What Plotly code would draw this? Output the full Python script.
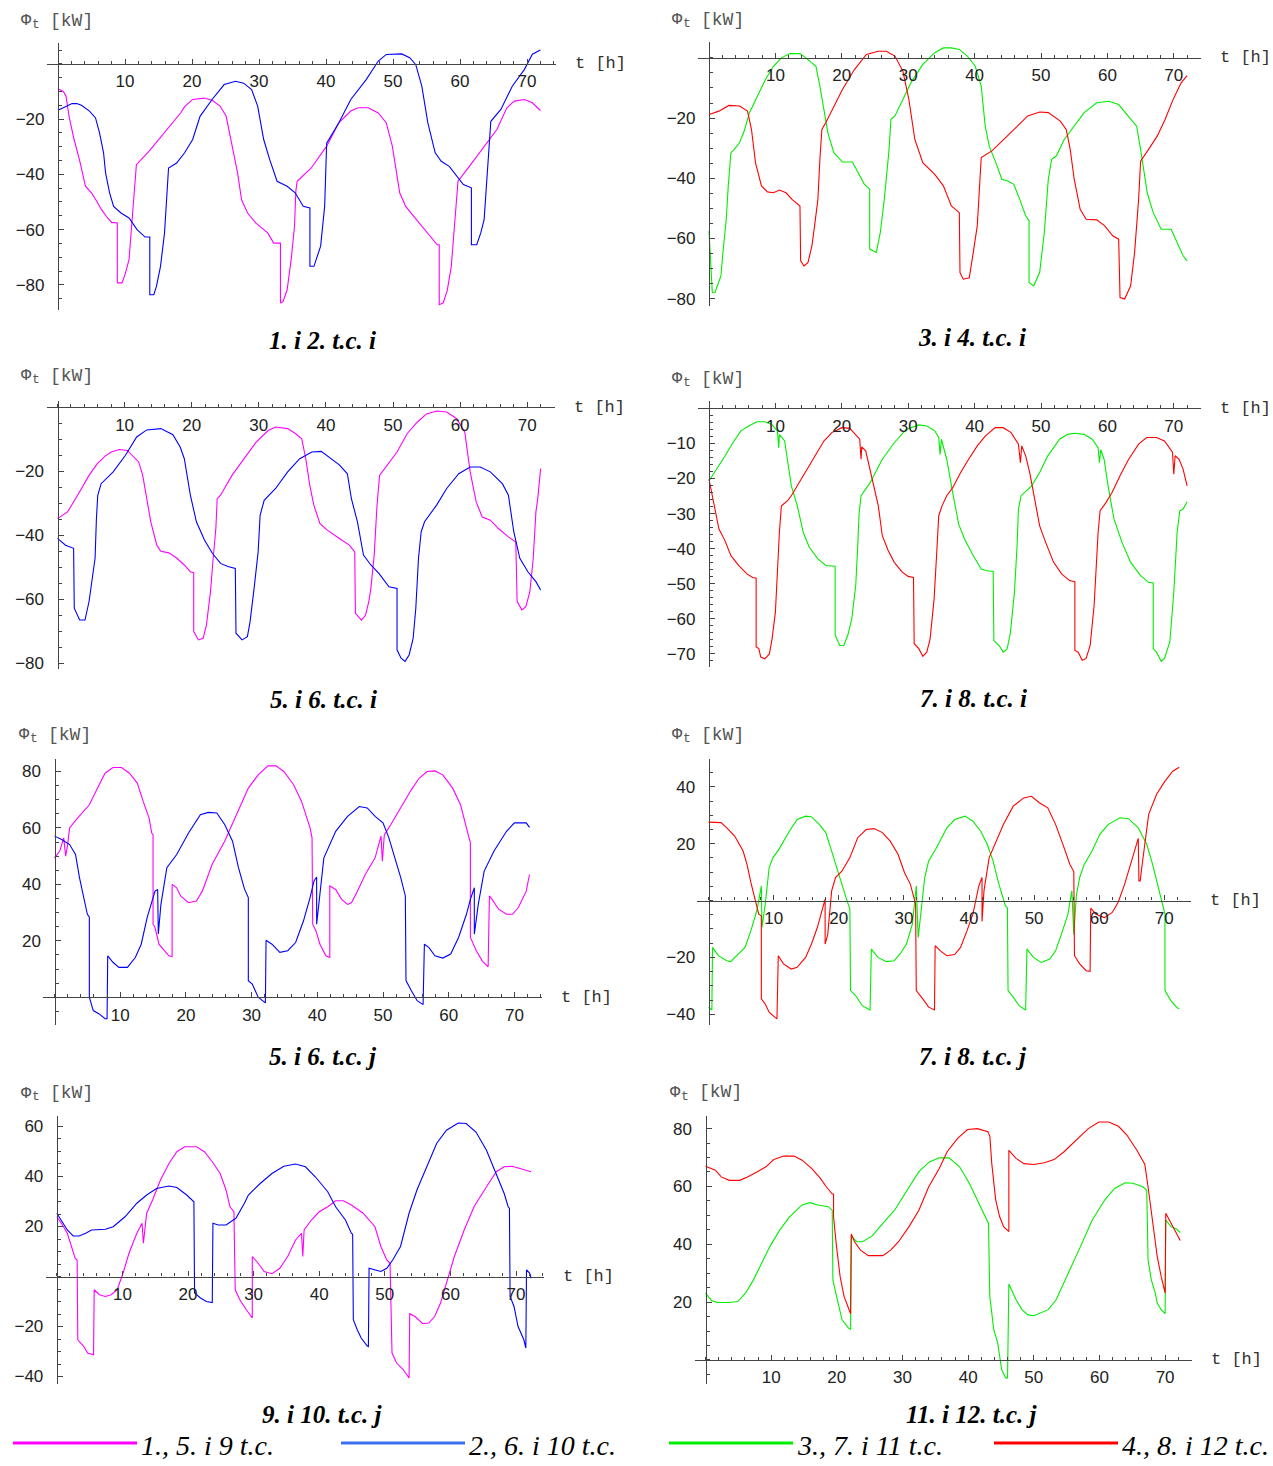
import plotly.graph_objects as go

W, H = 1273, 1466

# ---------------- data: (t [h], Phi_t [kW]) ----------------
# panel "1. i 2. t.c. i"
tc1_i = [(0, -9), (0.8, -10), (1.2, -11.7), (1.65, -19), (2.4, -27.4), (3.2, -34.7), (4.1, -44.3), (5.0, -46.7), (5.6, -49),
         (6.5, -52.8), (7.4, -55.8), (8.0, -57.4), (8.85, -57.6), (8.85, -79.3), (9.55, -79.3), (10.0, -76.3),
         (10.6, -70.9), (10.9, -61.2), (11.3, -48), (11.7, -36.5), (13.6, -31.6), (16.5, -23.2), (18.3, -17.8),
         (18.9, -15.5), (20.1, -12.9), (21.8, -12.4), (23.0, -13.2), (24.2, -15.3), (25.1, -19), (26.0, -29.8),
         (26.8, -39.5), (27.4, -49.2), (28.3, -54), (29.5, -57.6), (31.3, -61.2), (32.2, -64.9), (33.2, -64.9),
         (33.2, -86.6), (33.6, -86), (34.2, -81.8), (34.8, -70.9), (35.3, -58.8), (35.5, -46), (35.7, -42.5),
         (37.8, -37.7), (40.1, -29.8), (41.9, -21.4), (43.7, -17.1), (44.8, -15.9), (46.3, -15.9), (47.8, -17.8),
         (49.0, -21.4), (49.9, -29.8), (51.0, -46.7), (51.9, -51.6), (53.1, -55.2), (54.3, -58.8), (55.5, -62.4),
         (56.6, -65.5), (56.9, -65.5), (56.9, -87.2), (57.5, -86.5), (58.1, -82), (58.7, -73.3), (59.1, -61),
         (59.5, -49.2), (59.7, -42.5), (61.4, -37.1), (63.7, -29.8), (65.5, -23.8), (67.0, -15.9), (68.1, -13.5),
         (69.6, -12.9), (70.8, -14.1), (72.0, -16.9)]
tc2_i = [(0, -16.8), (1.2, -15.3), (2.1, -14.4), (2.8, -14.4), (3.5, -15), (4.7, -17.1), (5.6, -19.6), (6.2, -25), (6.8, -32.2),
         (7.1, -39.5), (7.7, -46.7), (8.3, -51.6), (9.4, -54), (10.6, -55.8), (11.8, -60), (13.0, -62.7),
         (13.7, -62.7), (13.7, -83.6), (14.3, -83.6), (14.7, -80.5), (15.3, -73.3), (15.9, -61.2), (16.2, -49),
         (16.5, -37.7), (17.7, -35.9), (18.9, -32.2), (20.1, -27.4), (21.2, -19), (23.0, -12.9), (24.8, -7.5),
         (26.5, -6.3), (27.7, -7), (28.9, -9.3), (29.8, -15.3), (30.7, -27.4), (31.6, -34.7), (32.7, -42.5),
         (34.2, -44.3), (35.4, -46.7), (36.6, -51.6), (37.6, -52.2), (37.6, -73.3), (38.2, -73.3), (39.2, -66),
         (39.8, -51.6), (40.1, -28.7), (41.9, -21.4), (43.7, -12.9), (46.0, -5.7), (47.8, 1), (49.0, 3.4),
         (51.3, 3.6), (52.5, 2.2), (53.4, -0.3), (54.3, -8.1), (55.2, -21.4), (56.3, -32.2), (57.2, -35.3),
         (58.4, -37.1), (59.6, -40.7), (60.5, -43.7), (61.7, -44.9), (61.7, -65.5), (62.5, -65.5), (63.1, -61.2),
         (63.6, -56.4), (64.3, -32.2), (64.6, -20.8), (66.1, -16.5), (67.8, -8.1), (69.6, -2.1), (70.8, 3.5),
         (72.0, 5)]

# panel "3. i 4. t.c. i"
tc3_i = [(0, -57.5), (0.5, -78), (0.9, -77.9), (1.5, -74.6), (1.8, -72.4), (2.1, -64.6), (2.6, -53.6), (2.9, -42.5),
         (3.3, -31.5), (3.8, -30.4), (4.6, -28.2), (5.3, -24.3), (6.1, -18.2), (7.3, -12.7), (8.5, -7.2),
         (9.7, -2.8), (10.9, 0), (12.2, 1.4), (13.7, 1.4), (14.6, 0), (16.1, -2.8), (16.7, -9.4), (17.3, -17.1),
         (17.9, -24.9), (18.8, -31.5), (20.1, -34.6), (21.6, -34.6), (22.5, -38.1), (23.4, -42), (24.2, -43.6),
         (24.2, -63.5), (25.2, -64.6), (25.8, -58), (26.4, -47), (27.1, -30.9), (27.4, -20.4), (28.0, -19.3),
         (29.2, -13.8), (30.4, -8.3), (32.2, -2.2), (34.0, 1.7), (35.3, 3.3), (36.5, 3.3), (37.7, 2.8),
         (38.9, 0.6), (40.1, -2.8), (41.0, -9.4), (41.6, -22.7), (42.2, -29.3), (43.2, -34.8), (44.1, -40.3),
         (45.0, -40.9), (45.9, -42), (46.8, -47), (47.7, -52.5), (48.2, -54.1), (48.2, -74.6), (48.9, -75.7),
         (49.8, -71.3), (50.5, -58), (51.1, -40.3), (51.6, -33.7), (52.3, -32.6), (53.5, -27.1), (55.0, -22.7),
         (56.5, -18.2), (58.4, -14.9), (60.2, -14.4), (61.7, -15.5), (63.2, -19.3), (64.4, -22.7), (65.0, -30.4),
         (66.0, -44.8), (66.9, -51.4), (68.1, -56.9), (69.6, -56.9), (70.5, -61.3), (71.4, -65.7), (72.0, -67.4)]
tc4_i = [(0, -18.8), (1.5, -17.7), (3.0, -15.8), (4.6, -16), (5.8, -17.7), (6.4, -23.8), (7.0, -34.8), (7.9, -42.5),
         (8.8, -44.5), (9.7, -44.8), (10.6, -43.9), (11.6, -44.8), (12.5, -47), (13.7, -49.2), (13.8, -67.4),
         (14.3, -69.1), (14.9, -68), (15.5, -62.4), (15.9, -55.8), (16.4, -47), (16.7, -33.7), (17.0, -23.8),
         (17.6, -21.5), (18.5, -17.7), (20.1, -10.5), (21.9, -3.9), (23.7, 1.1), (25.5, 2.2), (26.7, 2.2),
         (28.0, 0.6), (29.2, -4.4), (30.1, -13.8), (31.0, -27.1), (32.2, -34.8), (34.0, -38.7), (35.3, -42.5),
         (36.5, -49.2), (37.7, -51.4), (37.8, -71.3), (38.3, -73.5), (39.2, -73), (39.8, -64.6), (40.4, -55.8),
         (41.0, -33.1), (42.6, -30.9), (44.4, -27.1), (46.2, -23.2), (48.0, -19.3), (49.8, -18), (51.1, -18.2),
         (52.9, -21), (53.8, -23.8), (54.4, -30.4), (55.0, -40.3), (55.9, -50.3), (56.8, -53.6), (58.4, -53.8),
         (59.6, -55.8), (60.8, -59.1), (61.7, -60.2), (61.9, -79.6), (62.6, -80.1), (63.5, -75.7), (64.1, -64.6),
         (64.7, -47), (65.0, -34.3), (66.2, -30.4), (67.5, -26), (68.7, -20.4), (69.9, -13.8), (71.1, -8.3),
         (72.0, -5.9)]

# panel "5. i 6. t.c. i"
tc5_i = [(0, -34.8), (1.5, -32.7), (3.0, -27.5), (4.7, -21.3), (5.9, -17.7), (7.1, -15.3), (8.0, -14), (9.2, -13.2),
         (10.4, -13.5), (11.2, -15.1), (12.1, -17.1), (12.7, -21.3), (13.3, -28.6), (13.9, -35.8), (14.8, -43.1),
         (15.4, -45), (16.6, -45.5), (17.8, -47.2), (18.9, -49.3), (19.8, -51.4), (20.3, -51.7), (20.3, -70.1),
         (21.0, -72.7), (21.7, -72.2), (22.2, -68), (22.8, -57.6), (23.2, -47.2), (23.6, -37.9), (23.8, -28.6),
         (24.3, -27.5), (26.0, -21.3), (27.8, -16.1), (29.6, -10.9), (31.4, -7.3), (32.5, -6.2), (34.3, -6.7),
         (35.5, -8.3), (36.4, -9.9), (37.0, -16.1), (37.6, -24.4), (38.2, -30.6), (39.1, -36.3), (40.2, -38.4),
         (42.0, -41), (43.5, -43.1), (44.3, -45.2), (44.4, -64.4), (45.3, -66.5), (45.9, -65), (46.4, -60.7),
         (46.7, -56.6), (47.2, -46.2), (47.6, -31.2), (48.0, -21.3), (49.1, -18.2), (50.6, -14), (52.1, -8.3),
         (53.6, -4.7), (55.0, -2.1), (56.5, -1.2), (58.0, -1.5), (59.5, -3.6), (60.7, -7.8), (61.5, -20.2),
         (62.4, -29.6), (63.3, -34.3), (64.5, -35.3), (65.7, -37.9), (67.2, -40.5), (68.3, -42.1), (68.5, -60.7),
         (69.2, -63.3), (69.8, -62.3), (70.4, -57.6), (70.9, -47.2), (71.3, -32.7), (71.6, -28), (71.9, -19.2),
         (72.0, -19.2)]
tc6_i = [(0, -41), (1.2, -43.1), (2.4, -44.1), (2.5, -62.8), (3.3, -66.5), (4.1, -66.5), (4.7, -60.7), (5.3, -52.4),
         (5.6, -47.2), (5.8, -34.8), (6.0, -27.5), (6.5, -23.9), (8.3, -20.2), (10.1, -15.1), (11.8, -9.3),
         (13.3, -7.1), (15.4, -6.7), (17.2, -8.6), (18.3, -12.5), (18.9, -16.1), (19.8, -27.5), (20.7, -35.8),
         (21.9, -41.5), (23.1, -45.7), (24.3, -48.8), (25.4, -49.8), (26.5, -50.4), (26.6, -70.6), (27.5, -72.7),
         (28.3, -71.7), (28.7, -67), (29.3, -56.6), (29.9, -45.2), (30.2, -33.7), (30.8, -29.1), (32.5, -25.4),
         (34.3, -20.2), (36.1, -16.1), (37.9, -14), (39.3, -13.8), (40.5, -15.6), (42.0, -18), (43.2, -20.8),
         (43.8, -28.6), (44.7, -35.8), (45.6, -46.2), (46.7, -49.3), (47.9, -51.9), (49.4, -56.1), (50.6, -56.6),
         (50.6, -75.8), (51.2, -78.4), (51.8, -79.4), (52.4, -77.4), (53.0, -72.2), (53.4, -62.8), (53.8, -47.2),
         (54.2, -38.9), (54.7, -35.8), (56.5, -30.6), (58.0, -25.4), (59.8, -20.8), (61.5, -18.7), (63.0, -18.7),
         (64.5, -20.2), (66.3, -23.9), (67.2, -27.5), (68.0, -38.9), (68.9, -47.2), (70.1, -51.4), (71.3, -54.5),
         (72.0, -57.1)]

# panel "7. i 8. t.c. i"
tc7_i = [(0, -20.7), (1.2, -17.3), (2.4, -13.6), (3.6, -9.8), (4.8, -6.4), (6.0, -5), (7.2, -3.8), (8.4, -3.8),
         (9.4, -4.5), (10.3, -6.4), (10.5, -11.2), (10.6, -7.5), (11.4, -9.3), (11.8, -14.5), (12.4, -22.1),
         (13.3, -27.8), (14.2, -35.4), (15.1, -39.6), (16.4, -42.9), (17.6, -44.8), (19.0, -45), (19.0, -64.7),
         (19.7, -67.6), (20.3, -67.6), (20.9, -64.7), (21.5, -60), (22.1, -50.5), (22.4, -39.1), (22.6, -30.1),
         (22.9, -24.9), (24.3, -21.1), (26.1, -14.5), (27.9, -9.8), (29.7, -6), (31.6, -4.7), (32.8, -5),
         (34.0, -6.4), (34.6, -8.3), (34.8, -13.1), (35.0, -8.8), (35.8, -14.5), (36.7, -24), (37.6, -33),
         (38.5, -37.3), (39.8, -42), (41.0, -45.8), (41.9, -46.3), (42.8, -46.5), (42.9, -66.2), (43.7, -67.6),
         (44.3, -69.5), (44.9, -68.6), (45.4, -63.8), (46.0, -52.4), (46.4, -39.1), (46.6, -28.7), (47.0, -24.9),
         (48.6, -22.1), (49.8, -18.3), (51.0, -13.6), (52.8, -8.8), (54.0, -7.4), (55.0, -7.1), (56.5, -7.4),
         (57.7, -8.8), (58.6, -11.2), (58.8, -15.5), (59.0, -11.8), (59.5, -14.5), (60.1, -22.1), (61.0, -31.6),
         (62.2, -38.2), (63.5, -43.9), (65.0, -47.7), (66.2, -49.6), (66.9, -49.8), (66.9, -68.5), (67.4, -69.5),
         (68.1, -72.1), (68.6, -71.3), (69.4, -66.6), (70.0, -52.4), (70.5, -35.4), (70.9, -29.2), (71.4, -28.7),
         (72.0, -26.6)]
tc8_i = [(0, -20.2), (0.5, -24.9), (1.0, -29.7), (1.5, -34.4), (2.4, -37.7), (3.3, -42), (4.5, -44.8), (5.7, -47.2),
         (6.6, -48.2), (7.1, -48.4), (7.1, -68), (7.5, -68.5), (7.8, -70.9), (8.4, -71.4), (9.1, -70), (9.5, -65.7),
         (10.0, -58.1), (10.3, -45.8), (10.6, -35.4), (10.9, -27.8), (11.8, -26.4), (12.4, -24.9), (13.3, -22.1),
         (14.5, -18.3), (15.7, -14.5), (17.3, -9.3), (18.5, -6.9), (20.0, -5.5), (21.2, -5.7), (22.1, -7.4),
         (22.7, -8.8), (22.9, -14.5), (23.0, -11), (23.6, -12.1), (24.6, -20.2), (25.5, -27.8), (26.1, -36.3),
         (27.0, -40.6), (27.9, -43.9), (29.1, -46.7), (30.0, -47.9), (30.8, -48.2), (30.9, -67.1), (31.6, -68.5),
         (32.2, -70.7), (32.8, -69.5), (33.3, -65.7), (33.9, -54.3), (34.3, -41), (34.6, -30.6), (35.1, -27.8),
         (35.8, -24.9), (36.7, -22.6), (37.9, -18.3), (39.1, -14.5), (40.4, -10.7), (41.6, -7.9), (43.1, -5.5),
         (44.3, -5.5), (45.5, -6.9), (46.6, -10.2), (46.9, -15.5), (47.1, -10.7), (47.7, -13.6), (48.3, -18.3),
         (48.9, -24), (49.8, -33.5), (50.7, -38.2), (51.9, -43.9), (53.1, -47.2), (54.3, -49.1), (55.1, -49.4),
         (55.1, -69), (55.6, -69.5), (56.2, -71.8), (56.8, -71.3), (57.4, -67.6), (58.0, -56.2), (58.3, -44.8),
         (58.6, -35.4), (58.9, -29.2), (59.8, -26.8), (60.7, -24), (61.9, -19.2), (63.2, -14.5), (64.7, -10.2),
         (65.9, -8.3), (67.4, -8.3), (68.6, -9.3), (69.5, -11.7), (69.8, -12.5), (70.0, -18.8), (70.2, -13.5),
         (70.8, -14.5), (71.4, -17.3), (72.0, -22.1)]

# panel "5. i 6. t.c. j"
tc5_j = [(0, 49.4), (0.8, 51.8), (1.4, 56.5), (1.7, 50), (2.0, 54.1), (2.3, 60), (3.5, 63.5), (5.3, 68.2), (6.8, 75.3),
         (7.7, 79.4), (8.9, 81.4), (10.2, 81.4), (11.4, 79.4), (12.6, 75.9), (13.5, 69.4), (14.4, 63.5),
         (14.8, 58.2), (15.0, 57.6), (15.0, 25.9), (15.3, 24.7), (15.9, 18.8), (16.8, 16.5), (17.4, 14.7),
         (17.9, 14.4), (17.9, 40), (18.6, 38.8), (19.2, 35.9), (20.4, 33.5), (21.6, 34.1), (22.5, 37.6),
         (24.0, 47.1), (25.9, 55.3), (27.7, 64.7), (29.5, 74.1), (31.0, 78.8), (32.5, 82), (33.7, 82), (34.9, 80),
         (36.4, 75.3), (37.6, 69.4), (38.9, 60), (39.2, 56.5), (39.3, 25.9), (39.8, 23.5), (40.4, 18.8),
         (41.3, 14.7), (41.9, 14.1), (41.9, 39.4), (42.8, 38.2), (43.7, 34.7), (44.6, 32.9), (45.2, 33.5),
         (46.1, 37.6), (47.3, 43.5), (48.8, 49.4), (49.7, 57.1), (49.9, 48.2), (50.2, 57.5), (51.2, 61.2),
         (52.7, 67.1), (54.3, 73.5), (55.5, 77.6), (56.7, 80), (57.9, 80.2), (59.1, 78.8), (60.6, 74.1),
         (61.8, 68.2), (62.7, 60), (63.3, 54.7), (63.3, 21.2), (64.2, 16.5), (65.1, 12.9), (66.0, 10.8),
         (66.2, 35.9), (66.6, 34.7), (67.6, 31.2), (68.8, 29.4), (69.7, 29.4), (70.6, 31.8), (71.8, 37.6),
         (72.3, 43.5)]
tc6_j = [(0, 57.1), (1.1, 55.9), (2.3, 54.1), (3.2, 50.6), (3.8, 42.4), (4.4, 35.3), (5.0, 29.4), (5.3, 28.5),
         (5.3, 0), (5.9, -4.7), (6.8, -5.9), (7.7, -7.6), (8.0, -7.6), (8.1, 14.7), (8.9, 12.4), (9.8, 10.6),
         (11.1, 10.6), (12.3, 14.1), (13.2, 18.8), (14.1, 28.2), (14.7, 32.9), (15.3, 37.6), (15.7, 38.2),
         (15.8, 22.4), (16.2, 32.9), (17.1, 45.9), (18.6, 50.6), (20.4, 58.2), (22.2, 64.7), (23.4, 65.5),
         (24.7, 65.3), (25.9, 61.2), (27.1, 55.3), (28.0, 45.9), (28.9, 38.5), (29.5, 35.3), (29.5, 5.9),
         (30.1, 4.7), (31.0, 0), (31.9, -1.8), (32.1, -2), (32.2, 20.2), (33.1, 18.8), (34.3, 15.9), (35.5, 16.5),
         (36.7, 19.4), (37.9, 27.1), (38.9, 35.3), (39.5, 41.2), (39.9, 42.6), (39.9, 25.9), (41.0, 49.4),
         (42.8, 58.8), (44.6, 64.1), (46.4, 67.6), (47.6, 67.1), (48.8, 64.1), (50.0, 61.8), (50.9, 56.5),
         (51.8, 49.4), (52.7, 42.4), (53.4, 35.9), (53.5, 5.9), (54.3, 2.4), (55.2, -1.2), (56.1, -2.6),
         (56.3, 18.8), (57.0, 17.6), (57.9, 14.7), (59.1, 13.9), (60.3, 15.3), (61.5, 21.2), (62.7, 29.4),
         (63.3, 34.7), (63.9, 38.8), (63.9, 22.4), (64.5, 32.9), (65.4, 44.7), (66.9, 51.8), (68.8, 58.8),
         (70.0, 61.8), (71.8, 61.8), (72.3, 60.2)]

# panel "7. i 8. t.c. j"
tc7_j = [(0, -37.5), (0.5, -38.5), (0.6, -16.5), (1.5, -19.4), (2.8, -21.2), (3.4, -21.5), (4.3, -19.4), (5.6, -16.5),
         (6.5, -10.6), (7.4, -3.6), (8.1, 5.1), (8.2, -9.5), (8.7, -1.3), (9.3, 11.6), (9.9, 15.1), (10.8, 18),
         (12.4, 24.4), (13.6, 28.5), (14.9, 29.7), (15.8, 29.5), (17.0, 26.8), (18.0, 23.9), (18.9, 17.4),
         (20.1, 8.1), (21.1, 1.1), (21.7, -3), (21.8, -31.7), (22.6, -33.5), (23.6, -37), (24.8, -38.5),
         (25.0, -17.1), (26.0, -20), (27.3, -21.5), (28.5, -21.2), (29.4, -18.8), (30.4, -15.3), (31.3, -8.3),
         (31.9, 5.1), (32.2, -13), (33.2, 8.1), (33.8, 13.9), (35.0, 18.6), (36.6, 25.6), (37.8, 28.5),
         (39.4, 29.7), (40.6, 27.9), (41.8, 24.4), (42.8, 19.8), (43.7, 13.9), (44.6, 5.7), (45.6, -1.9),
         (45.9, -2.5), (46.0, -31.7), (46.8, -34), (47.7, -37), (48.7, -38.5), (48.9, -17.1), (49.9, -20),
         (51.1, -21.8), (52.4, -20.6), (53.3, -17.7), (54.2, -11.8), (55.2, -4.8), (55.8, 3.4), (56.1, -12),
         (56.5, 2), (57.0, 8.1), (57.7, 12.7), (58.9, 17.4), (60.1, 23.3), (61.4, 26.8), (63.2, 29.1),
         (64.5, 28.8), (66.0, 25.6), (67.3, 19.8), (68.2, 12.7), (69.1, 4.6), (69.7, -1.3), (70.1, -4.8),
         (70.1, -31.7), (71.0, -35.2), (72.0, -37.8), (72.3, -38)]
tc8_j = [(0, 27.6), (1.9, 27.4), (2.8, 25.6), (4.0, 22.7), (5.3, 17.4), (5.9, 12.7), (6.5, 6.3), (7.1, 0.5),
         (7.7, -4.8), (8.1, -5.4), (8.1, -34.6), (8.7, -36.4), (9.3, -39.3), (10.2, -41.1), (10.5, -41.6),
         (10.7, -19.4), (11.5, -22.3), (12.7, -24.1), (13.6, -23.5), (14.9, -20), (15.8, -15.3), (16.7, -9.5),
         (17.7, -1.9), (17.9, 0.5), (17.9, -15.3), (18.3, -12), (18.9, 3.4), (19.5, 8.1), (20.5, 10.4),
         (21.7, 15.1), (22.9, 22.1), (24.2, 25), (25.4, 25.3), (26.7, 23.9), (27.9, 20.9), (29.1, 16.3),
         (30.1, 9.8), (31.0, 5.7), (31.8, -1.3), (31.9, -31.7), (32.9, -34.6), (33.8, -37.5), (34.7, -38.5),
         (34.8, -15.9), (35.6, -17.7), (36.6, -19.4), (37.8, -19), (38.7, -16.5), (39.7, -10.6), (40.6, -4.8),
         (41.5, 5.1), (42.0, 8.1), (42.0, -7.4), (42.3, 3.4), (43.1, 15.1), (44.0, 19.8), (45.3, 26.8),
         (46.8, 33.2), (48.4, 36.1), (49.6, 36.7), (50.8, 34.4), (52.1, 32.6), (53.3, 26.8), (54.6, 18.6),
         (55.5, 12.7), (56.1, 10.2), (56.2, -19.4), (57.0, -22.3), (58.0, -24.7), (58.6, -24.9), (58.7, -2.7),
         (59.5, -4.8), (60.8, -6), (62.0, -4.2), (62.9, -0.7), (63.9, 5.7), (65.1, 15.1), (66.0, 21.9),
         (66.1, 6.9), (66.3, 6.9), (66.6, 12.7), (67.6, 30.3), (68.8, 37.3), (70.1, 42), (71.3, 45.5),
         (72.3, 46.9)]

# panel "9. i 10. t.c. j"
tc9_j = [(0, 23.9), (0.7, 21.3), (1.6, 17.3), (2.2, 12), (2.8, 7.3), (3.1, 6.6), (3.2, -25.3), (4.1, -27.9),
         (4.7, -30.6), (5.6, -31.3), (5.7, -5.3), (6.5, -7.3), (7.4, -8), (8.3, -7.3), (9.2, -5.3), (10.1, 1.3),
         (11.0, 9.3), (12.2, 17.3), (13.0, 21.3), (13.2, 13.3), (13.6, 22.6), (13.7, 25.3), (14.6, 30.6),
         (15.8, 38.6), (17.1, 45.2), (18.3, 49.9), (19.5, 51.9), (21.3, 51.9), (22.5, 49.9), (23.7, 45.9),
         (24.9, 41.2), (25.8, 34.6), (26.4, 27.9), (27.0, 25.9), (27.2, -5.3), (27.9, -9.3), (28.9, -13.3),
         (29.8, -16.6), (29.8, 8), (30.7, 5.3), (31.6, 2), (32.8, 1.1), (34.0, 3.3), (35.2, 8), (36.4, 14.6),
         (37.3, 17.3), (37.5, 8), (37.7, 18.6), (38.8, 22.6), (40.0, 25.9), (41.3, 27.9), (42.5, 30.3),
         (43.7, 30.3), (44.9, 28.6), (46.7, 25.3), (48.5, 19.9), (49.4, 12), (50.3, 6.6), (50.8, 5.3),
         (51.1, -30.6), (51.8, -34.6), (52.8, -37.2), (53.7, -40.6), (53.8, -14.9), (54.6, -16), (55.8, -18.9),
         (56.7, -18.6), (57.6, -16), (58.5, -10.6), (59.4, -2.7), (60.6, 8), (62.1, 18.6), (63.6, 27.9),
         (65.5, 35.9), (67.0, 41.9), (68.2, 43.9), (69.4, 44.1), (70.6, 43.2), (72.3, 41.9)]
tc10_j = [(0, 25.3), (0.7, 22.6), (1.6, 18.6), (2.5, 16.2), (3.4, 16.2), (4.4, 17.3), (5.3, 18.6), (7.4, 18.9),
          (8.6, 19.9), (10.4, 23.9), (12.2, 29.3), (13.7, 32.6), (15.2, 35.2), (17.1, 36.2), (18.3, 35.6),
          (19.8, 32.6), (20.9, 29.9), (21.0, -6.6), (21.9, -8.6), (22.8, -10), (23.7, -10.4), (23.8, 21.3),
          (24.6, 20.6), (25.8, 20.6), (27.3, 23.3), (28.6, 29.3), (29.2, 32.6), (31.0, 37.2), (32.8, 41.2),
          (34.6, 44.1), (36.4, 45), (37.9, 43.9), (39.4, 39.9), (41.3, 33.9), (42.5, 27.9), (44.0, 22.6),
          (44.9, 17.3), (45.1, 16.9), (45.2, -17.3), (45.8, -21.3), (46.4, -24.6), (47.3, -27.7), (47.5, -28),
          (47.6, 3.3), (48.5, 2.7), (49.4, 2), (50.3, 3.3), (51.2, 6.6), (52.4, 12), (53.7, 25.3), (54.9, 34.6),
          (56.4, 43.9), (57.9, 53.2), (59.4, 58.5), (61.2, 61.4), (62.4, 61.2), (63.9, 57.8), (65.5, 50.5),
          (67.0, 41.2), (68.2, 33.2), (68.8, 27.9), (69.0, 27.3), (69.1, -8), (69.7, -12), (70.3, -19.9),
          (71.2, -25.3), (71.5, -28.6), (71.6, 2.7), (72.1, 1.3), (72.3, -0.7)]

# panel "11. i 12. t.c. j"
tc11_j = [(0, 23.1), (0.9, 20.6), (1.8, 19.9), (3.6, 19.9), (4.9, 20.2), (6.1, 23.1), (7.3, 27.7), (8.5, 33.4),
          (9.8, 39.2), (11.3, 44.9), (12.8, 49.5), (14.7, 53.6), (15.9, 54.4), (17.1, 53.6), (18.7, 53),
          (19.3, 51.8), (19.4, 27.7), (20.2, 19.7), (20.8, 13.9), (21.8, 11), (22.1, 10.5), (22.2, 42.9),
          (23.0, 40.9), (23.9, 40.9), (25.4, 42.9), (27.0, 47.2), (28.8, 51.8), (30.7, 58.7), (32.5, 65.1),
          (34.1, 68.5), (35.6, 69.9), (37.1, 69.9), (38.7, 66.8), (40.2, 61), (41.4, 55.3), (42.3, 50.7),
          (43.1, 47.2), (43.3, 22), (43.9, 10.5), (44.5, 5.9), (45.1, -3.3), (45.7, -6.2), (46.0, -6.2),
          (46.2, 26.3), (47.3, 20.8), (48.2, 17.4), (49.1, 15.6), (50.0, 15.3), (51.0, 16.2), (52.2, 17.4),
          (53.4, 20.8), (55.3, 30), (57.1, 39.2), (58.9, 48.4), (60.8, 55.3), (62.3, 59.3), (63.9, 61.3),
          (65.1, 61.1), (66.6, 59.9), (67.2, 58.7), (67.4, 34.6), (67.9, 27.7), (68.5, 23.1), (68.8, 19.7),
          (69.4, 17.4), (70.0, 16), (70.1, 48.4), (70.9, 46.1), (71.8, 45.2), (72.3, 44)]
tc12_j = [(0, 67), (1.5, 65.6), (2.4, 63.3), (3.6, 62.1), (5.2, 62.1), (6.4, 63.3), (7.9, 65.1), (9.2, 66.8),
          (10.4, 69.3), (11.9, 70.5), (13.5, 70.5), (14.7, 69.1), (16.2, 66.2), (17.5, 62.8), (18.4, 59.9),
          (19.3, 57.4), (19.5, 57.4), (19.5, 49.5), (19.9, 40.3), (20.5, 28.9), (21.1, 22), (21.8, 17.4),
          (22.1, 16), (22.2, 43.6), (22.7, 40.9), (23.6, 38), (24.8, 36.1), (27.0, 36.1), (28.2, 38), (29.4, 40.9),
          (31.0, 46.1), (32.5, 51.8), (34.0, 59.9), (35.6, 66.2), (36.8, 72), (38.4, 76.6), (39.9, 79.7),
          (41.4, 80), (43.0, 78.9), (43.3, 77.5), (43.6, 67.9), (44.2, 55.3), (44.8, 49.5), (45.4, 46.1),
          (46.2, 44.4), (46.2, 72.5), (47.3, 69.7), (48.5, 67.9), (50.0, 67.6), (51.6, 68.2), (53.1, 69.3),
          (54.6, 72), (56.5, 76), (58.3, 80), (59.9, 82.3), (61.4, 82.3), (62.9, 80.8), (64.2, 77.7), (65.7, 72.5),
          (66.9, 67.7), (67.4, 59.9), (67.9, 51.8), (68.8, 35.7), (69.4, 28.9), (70.0, 23.1), (70.1, 50.7),
          (70.9, 47.2), (72.3, 41.3)]

titles = ["1. i 2. t.c. i", "3. i 4. t.c. i", "5. i 6. t.c. i", "7. i 8. t.c. i",
          "5. i 6. t.c. j", "7. i 8. t.c. j", "9. i 10. t.c. j", "11. i 12. t.c. j"]
legend_labels = ["1., 5. i 9 t.c.", "2., 6. i 10 t.c.", "3., 7. i 11 t.c.", "4., 8. i 12 t.c."]
y_label_sym, y_label_sub, y_label_unit = "Φ", "t", "[kW]"
x_label = "t [h]"
x_ticks = [10, 20, 30, 40, 50, 60, 70]
y_ticks = [
    [-80, -60, -40, -20],
    [-80, -60, -40, -20],
    [-80, -60, -40, -20],
    [-70, -60, -50, -40, -30, -20, -10],
    [20, 40, 60, 80],
    [-40, -20, 20, 40],
    [-40, -20, 20, 40, 60],
    [20, 40, 60, 80],
]

# ---------------- styling / geometry (pixels) ----------------
MAG, BLU, GRN, RED = "#ff00ff", "#0000ff", "#00ee00", "#ff0000"
panel_series = [
    [(tc1_i, MAG), (tc2_i, BLU)],
    [(tc3_i, GRN), (tc4_i, RED)],
    [(tc5_i, MAG), (tc6_i, BLU)],
    [(tc7_i, GRN), (tc8_i, RED)],
    [(tc5_j, MAG), (tc6_j, BLU)],
    [(tc7_j, GRN), (tc8_j, RED)],
    [(tc9_j, MAG), (tc10_j, BLU)],
    [(tc11_j, GRN), (tc12_j, RED)],
]
# x0/sx: pixel of t=0 and px per hour; xl/xr: x-axis extent; y0/sy: pixel of 0 kW and px per kW; yt/yb: y-axis extent
geom = [
    dict(x0=58, sx=6.70, xl=47, xr=556, y0=64, sy=2.77, yt=43, yb=311, ymn=5, tx=322, ty=341, lx=19, ly=21),
    dict(x0=709, sx=6.64, xl=698, xr=1201, y0=58, sy=3.02, yt=42, yb=307, ymn=5, tx=972, ty=338, lx=670, ly=20),
    dict(x0=57.5, sx=6.71, xl=46.5, xr=555, y0=408.3, sy=3.21, yt=402, yb=671, ymn=5, tx=323, ty=701, lx=19, ly=377),
    dict(x0=709, sx=6.64, xl=698, xr=1201, y0=409.5, sy=3.517, yt=402, yb=669, ymn=2, tx=973, ty=700, lx=670, ly=380),
    dict(x0=54.5, sx=6.57, xl=43, xr=542, y0=1000, sy=2.83, yt=761, yb=1028, ymn=5, tx=323, ty=1059, lx=17, ly=737),
    dict(x0=708.6, sx=6.51, xl=696.5, xr=1191, y0=903, sy=2.85, yt=761, yb=1028, ymn=5, tx=973, ty=1059, lx=670, ly=737),
    dict(x0=56.8, sx=6.56, xl=45.7, xr=543.7, y0=1280, sy=2.507, yt=1119, yb=1388, ymn=5, tx=322, ty=1418, lx=19, ly=1096),
    dict(x0=705.5, sx=6.566, xl=694.5, xr=1192, y0=1363.7, sy=2.9, yt=1119, yb=1388, ymn=5, tx=972, ty=1418, lx=668, ly=1095),
]

def px(x):
    return x / W

def py(y):
    return 1 - y / H

fig = go.Figure()
layout = dict(width=W, height=H, margin=dict(l=0, r=0, t=0, b=0), autosize=False,
              paper_bgcolor="white", plot_bgcolor="white", showlegend=False)
annotations = []
shapes = []

AX = "#444"
MONO = "Liberation Mono, monospace"
SERIF = "Liberation Serif, Times New Roman, serif"
tickfont = dict(family="Liberation Sans, Arial, sans-serif", size=17, color="#222")


def note(text, x, y, size, family, color="#000", xanchor="left"):
    annotations.append(dict(text=text, x=px(x), y=py(y), xref="paper", yref="paper",
                            xanchor=xanchor, yanchor="middle", showarrow=False,
                            font=dict(family=family, size=size, color=color)))


for i, (g, series, yt) in enumerate(zip(geom, panel_series, y_ticks), start=1):
    xa = "x" if i == 1 else f"x{i}"
    ya = "y" if i == 1 else f"y{i}"
    for data, col in series:
        fig.add_trace(go.Scatter(x=[d[0] for d in data], y=[d[1] for d in data], mode="lines",
                                 line=dict(color=col, width=1.1), xaxis=xa, yaxis=ya,
                                 hoverinfo="skip", showlegend=False))
    xr = [(g["xl"] - g["x0"]) / g["sx"], (g["xr"] - g["x0"]) / g["sx"]]
    yr = [(g["y0"] - g["yb"]) / g["sy"], (g["y0"] - g["yt"]) / g["sy"]]
    common = dict(showgrid=False, zeroline=False, showline=True, linecolor=AX, linewidth=1.2,
                  ticks="inside", ticklen=5, tickwidth=1, tickcolor=AX, tickfont=tickfont,
                  tickmode="array", fixedrange=True)
    layout["xaxis" if i == 1 else f"xaxis{i}"] = dict(
        common, domain=[px(g["xl"]), px(g["xr"])], range=xr, anchor="free", position=py(g["y0"]),
        tickvals=x_ticks, ticktext=[str(v) for v in x_ticks], ticklabelstandoff=2,
        minor=dict(ticks="inside", ticklen=3, tickwidth=1, tickcolor=AX, tickmode="linear", dtick=2, tick0=0))
    layout["yaxis" if i == 1 else f"yaxis{i}"] = dict(
        common, domain=[py(g["yb"]), py(g["yt"])], range=yr, anchor="free", position=px(g["x0"]),
        tickvals=yt, ticktext=[("\u2212" + str(-v)) if v < 0 else str(v) for v in yt], ticklabelstandoff=10,
        minor=dict(ticks="inside", ticklen=3, tickwidth=1, tickcolor=AX, tickmode="linear", dtick=g["ymn"], tick0=0))
    # axis captions (Φ with subscript t, unit) and panel title
    note(y_label_sym, g["lx"], g["ly"], 17, MONO, "#555")
    note(y_label_sub, g["lx"] + 11, g["ly"] + 4, 13, MONO, "#555")
    note(y_label_unit, g["lx"] + 29, g["ly"], 18, MONO, "#555")
    note(x_label, g["xr"] + 17, g["y0"], 17, MONO, "#333")
    note(f"<b><i>{titles[i-1]}</i></b>", g["tx"], g["ty"], 25, SERIF, "#000", xanchor="center")

# legend (bottom row)
leg_colors = [MAG, "#3a6ff0", GRN, RED]
leg_lines = [(13, 137), (341, 465), (669, 793), (994, 1118)]
for lab, col, (a, b) in zip(legend_labels, leg_colors, leg_lines):
    shapes.append(dict(type="line", xref="paper", yref="paper", x0=px(a), x1=px(b), y0=py(1447), y1=py(1447),
                       line=dict(color=col, width=3)))
    note(f"<i>{lab}</i>", b + 2, 1449, 28, SERIF, "#000")

layout["annotations"] = annotations
layout["shapes"] = shapes
fig.update_layout(**layout)
fig.write_html("out.html", config={"displayModeBar": False},
               post_script="document.body.style.margin='0';document.body.style.overflow='hidden';")
